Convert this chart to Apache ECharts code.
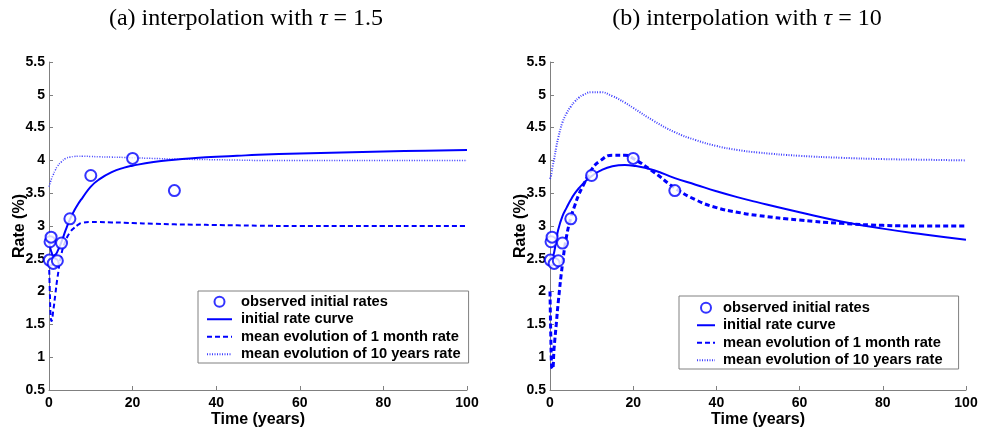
<!DOCTYPE html>
<html>
<head>
<meta charset="utf-8">
<script src="https://cdn.jsdelivr.net/npm/echarts@6/dist/echarts.min.js"></script>
<style>html,body{margin:0;padding:0;background:#fff}#c{width:982px;height:433px}</style>
</head>
<body>
<div id="c"></div>
<script>
// ---- data ----
const obsMaturity = [0.08, 0.25, 0.5, 1, 2, 3, 5, 10, 20, 30];
const obsRate     = [2.48, 2.76, 2.83, 2.43, 2.47, 2.74, 3.11, 3.77, 4.03, 3.54];

// panel (a) tau = 1.5
const tA        = [0, 0.2, 0.4, 0.6, 1, 1.5, 2, 3, 4, 5, 6, 7, 8, 10, 12, 15, 18, 20, 25, 30, 35, 40, 45, 50, 60, 70, 80, 90, 100];
const initialA  = [2.78, 2.70, 2.64, 2.60, 2.55, 2.56, 2.61, 2.76, 2.94, 3.10, 3.23, 3.34, 3.43, 3.60, 3.71, 3.82, 3.89, 3.92, 3.975, 4.01, 4.035, 4.055, 4.07, 4.085, 4.105, 4.12, 4.135, 4.148, 4.16];
const oneMonthA = [2.45, 2.00, 1.62, 1.55, 1.70, 1.95, 2.20, 2.58, 2.78, 2.90, 2.97, 3.02, 3.05, 3.06, 3.06, 3.055, 3.05, 3.045, 3.035, 3.025, 3.02, 3.015, 3.01, 3.005, 3.00, 3.00, 3.00, 3.00, 3.00];
const tenYearA  = [3.60, 3.64, 3.68, 3.72, 3.78, 3.85, 3.91, 3.98, 4.03, 4.05, 4.06, 4.065, 4.065, 4.06, 4.055, 4.05, 4.045, 4.04, 4.03, 4.02, 4.015, 4.01, 4.005, 4.00, 4.00, 4.00, 4.00, 4.00, 4.00];

// panel (b) tau = 10
const tB        = [0, 0.2, 0.4, 0.6, 1, 1.5, 2, 3, 4, 5, 6, 7, 8, 10, 12, 15, 18, 20, 25, 30, 35, 40, 45, 50, 60, 70, 80, 90, 100];
const initialB  = [2.55, 2.52, 2.50, 2.52, 2.60, 2.78, 2.95, 3.15, 3.28, 3.40, 3.50, 3.58, 3.65, 3.76, 3.84, 3.91, 3.93, 3.92, 3.85, 3.73, 3.63, 3.53, 3.44, 3.36, 3.21, 3.07, 2.96, 2.87, 2.79];
const oneMonthB = [2.00, 1.30, 0.85, 0.82, 1.15, 1.50, 1.85, 2.42, 2.85, 3.12, 3.32, 3.49, 3.62, 3.86, 3.99, 4.08, 4.08, 4.03, 3.82, 3.58, 3.40, 3.28, 3.21, 3.16, 3.09, 3.04, 3.01, 3.00, 3.00];
const tenYearB  = [3.72, 3.76, 3.82, 3.90, 4.02, 4.20, 4.35, 4.58, 4.72, 4.82, 4.90, 4.96, 5.00, 5.04, 5.04, 4.98, 4.88, 4.80, 4.60, 4.43, 4.31, 4.22, 4.16, 4.12, 4.07, 4.04, 4.02, 4.01, 4.00];

const xTicks = [0, 20, 40, 60, 80, 100];
const yTicks = [0.5, 1, 1.5, 2, 2.5, 3, 3.5, 4, 4.5, 5, 5.5];

const names = ['observed initial rates', 'initial rate curve', 'mean evolution of 1 month rate', 'mean evolution of 10 years rate'];
const titles = ['(a) interpolation with {i|τ} = 1.5', '(b) interpolation with {i|τ} = 10'];

// ---- chart ----
const BLUE = '#0000ff';
const DOT = '#3d3dff';
const zip = (a, b) => a.map((v, i) => [v, b[i]]);
const chart = echarts.init(document.getElementById('c'), null, {renderer: 'canvas'});

function xAxis(gi) {
  return {
    gridIndex: gi, type: 'value', min: xTicks[0], max: xTicks[xTicks.length - 1], interval: xTicks[1] - xTicks[0],
    name: 'Time (years)', nameLocation: 'middle', nameGap: 22, nameMoveOverlap: false,
    nameTextStyle: {fontFamily: 'Liberation Sans', fontWeight: 'bold', fontSize: 16, color: '#000'},
    axisLine: {show: true, lineStyle: {color: '#808080', width: 1}},
    axisTick: {show: true, inside: true, length: 4, lineStyle: {color: '#808080'}},
    axisLabel: {margin: 6, fontFamily: 'Liberation Sans', fontWeight: 'bold', fontSize: 14, color: '#000'},
    splitLine: {show: false}
  };
}
function yAxis(gi) {
  return {
    gridIndex: gi, type: 'value', min: yTicks[0], max: yTicks[yTicks.length - 1], interval: yTicks[1] - yTicks[0],
    name: 'Rate (%)', nameLocation: 'middle', nameGap: 21, nameRotate: 90, nameMoveOverlap: false,
    nameTextStyle: {fontFamily: 'Liberation Sans', fontWeight: 'bold', fontSize: 16, color: '#000'},
    axisLine: {show: true, lineStyle: {color: '#808080', width: 1}},
    axisTick: {show: true, inside: true, length: 4, lineStyle: {color: '#808080'}},
    axisLabel: {margin: 4, fontFamily: 'Liberation Sans', fontWeight: 'bold', fontSize: 14, color: '#000'},
    splitLine: {show: false}
  };
}
function lineSeries(gi, name, t, v, type, width, color) {
  return {
    name: name, type: 'line', xAxisIndex: gi, yAxisIndex: gi, data: zip(t, v),
    symbol: 'none', smooth: 0.5, z: 2,
    lineStyle: {color: color, width: width, type: type},
    itemStyle: {color: color}
  };
}
function scatterSeries(gi) {
  return {
    name: names[0], type: 'scatter', xAxisIndex: gi, yAxisIndex: gi, data: zip(obsMaturity, obsRate),
    symbol: 'emptyCircle', symbolSize: 11, z: 5,
    itemStyle: {color: BLUE, borderColor: BLUE, borderWidth: 2}
  };
}
function legend(left, top, pad, iw, textPadLeft) {
  return {
    orient: 'vertical', left: left, top: top,
    data: [
      {name: names[0], icon: 'emptyCircle'},
      {name: names[1], itemStyle: {opacity: 0}},
      {name: names[2], itemStyle: {opacity: 0}},
      {name: names[3], itemStyle: {opacity: 0}}
    ],
    selectedMode: false,
    backgroundColor: '#fff', borderColor: '#808080', borderWidth: 1, borderRadius: 0,
    padding: pad, itemGap: 0, itemWidth: iw, itemHeight: 10,
    textStyle: {fontFamily: 'Liberation Sans', fontWeight: 'bold', fontSize: 14.7, color: '#000',
      lineHeight: 17.5, padding: [0, 0, 0, textPadLeft]}
  };
}

const titleStyle = {fontFamily: 'Liberation Serif', fontWeight: 'normal', fontSize: 24, color: '#000',
  rich: {i: {fontFamily: 'Liberation Serif', fontStyle: 'italic', fontSize: 24, color: '#000'}}};

chart.setOption({
  animation: false,
  backgroundColor: '#fff',
  title: [
    {text: titles[0], left: 241, top: 2, textAlign: 'center', textStyle: titleStyle},
    {text: titles[1], left: 742, top: 2, textAlign: 'center', textStyle: titleStyle}
  ],
  grid: [
    {left: 49, top: 62, width: 418, height: 329},
    {left: 550, top: 62, width: 416, height: 329}
  ],
  xAxis: [xAxis(0), xAxis(1)],
  yAxis: [yAxis(0), yAxis(1)],
  legend: [legend(198, 291, [2, 8, 0, 8], 25, 4), legend(679, 296, [3, 16, 0, 17], 18, 3)],
  series: [
    lineSeries(0, names[3], tA, tenYearA, [1, 1.5], 1.5, DOT),
    lineSeries(0, names[2], tA, oneMonthA, [5, 3], 2, BLUE),
    lineSeries(0, names[1], tA, initialA, 'solid', 2, BLUE),
    scatterSeries(0),
    lineSeries(1, names[3], tB, tenYearB, [1, 1.5], 2, DOT),
    lineSeries(1, names[2], tB, oneMonthB, [5, 3], 3, BLUE),
    lineSeries(1, names[1], tB, initialB, 'solid', 2, BLUE),
    scatterSeries(1)
  ]
});
</script>
</body>
</html>
